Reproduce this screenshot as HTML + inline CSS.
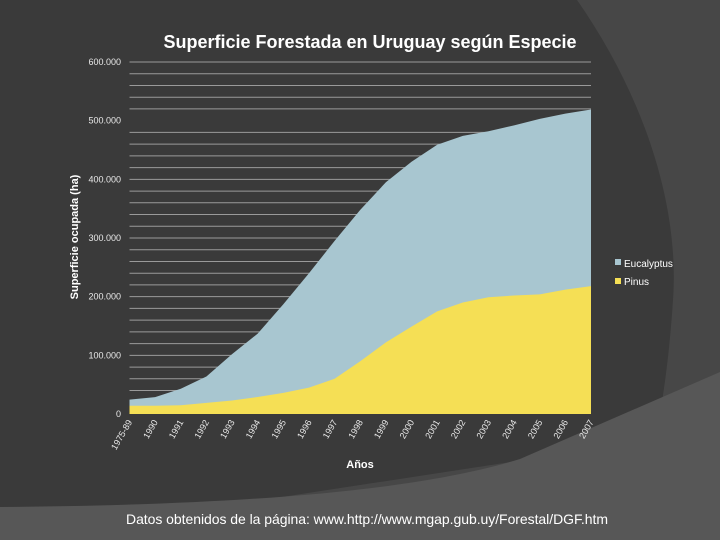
<!DOCTYPE html>
<html><head><meta charset="utf-8"><style>
html,body{margin:0;padding:0;background:#555;}
svg{display:block;font-family:"Liberation Sans",sans-serif;}
</style></head><body>
<svg id="c" width="720" height="540" viewBox="0 0 720 540">
<rect width="720" height="540" fill="#474747"/>
<path d="M0,0 L577,0 C640,90 680,200 673,300 C669,360 663,400 655,440 L0,540 Z" fill="#3a3a3a"/>
<path d="M0,507 C250,505 420,490 520,459 L720,372 L720,540 L0,540 Z" fill="#575757"/>
<text x="370" y="48" text-anchor="middle" fill="#fff" font-size="18" font-weight="bold" textLength="413">Superficie Forestada en Uruguay según Especie</text>
<g id="grid"></g>
<g id="areas"></g>
<g id="yt"></g>
<g id="xt"></g>
<text transform="translate(78,237) rotate(-90)" text-anchor="middle" fill="#fff" font-size="11" font-weight="bold">Superficie ocupada (ha)</text>
<text x="360" y="468" text-anchor="middle" fill="#fff" font-size="11" font-weight="bold">Años</text>
<g>
<rect x="615" y="259" width="6" height="6" fill="#a8c6d0"/>
<text x="624" y="267" fill="#fff" font-size="10">Eucalyptus</text>
<rect x="615" y="278" width="6" height="6" fill="#f5df55"/>
<text x="624" y="285" fill="#fff" font-size="10">Pinus</text>
</g>
<text x="126" y="524" fill="#fff" font-size="14" textLength="482">Datos obtenidos de la página: www.http://www.mgap.gub.uy/Forestal/DGF.htm</text>
</svg>
<script>
const categories=["1975-89","1990","1991","1992","1993","1994","1995","1996","1997","1998","1999","2000","2001","2002","2003","2004","2005","2006","2007"];
const pinus=[14000,14000,15000,19000,23000,29000,36000,45000,60000,90000,122000,149000,175000,190000,199000,202000,204000,212000,218000];
const eucalyptus=[10600,14700,28000,45000,79000,108000,151000,195000,235000,258000,273000,281000,284000,284000,283000,290000,299000,300000,301000];
const yTicks=[0,100000,200000,300000,400000,500000,600000];
const yTickLabels=["0","100.000","200.000","300.000","400.000","500.000","600.000"];
const NS="http://www.w3.org/2000/svg";
const X0=129.5,X1=591,Y0=414,Y1=62;
const xs=i=>X0+(X1-X0)*i/(categories.length-1);
const ys=v=>Y0-(Y0-Y1)*v/600000;
function mk(t,a,p){const e=document.createElementNS(NS,t);for(const k in a)e.setAttribute(k,a[k]);p.appendChild(e);return e;}
const grid=document.getElementById('grid');
for(let v=20000;v<=600000;v+=20000){
  if(v===500000)continue;
  const l=mk('line',{x1:X0,x2:X1,y1:ys(v),y2:ys(v),stroke:'#9a9a9a','stroke-width':1},grid);
  
  
}
const areas=document.getElementById('areas');
const tot=pinus.map((p,i)=>p+eucalyptus[i]);
let d='M'+xs(0)+','+ys(0);
tot.forEach((v,i)=>d+=' L'+xs(i)+','+ys(v));
d+=' L'+xs(tot.length-1)+','+ys(0)+' Z';
const ea=mk('path',{d:d,fill:'#a8c6d0'},areas);


d='M'+xs(0)+','+ys(0);
pinus.forEach((v,i)=>d+=' L'+xs(i)+','+ys(v));
d+=' L'+xs(pinus.length-1)+','+ys(0)+' Z';
const pa=mk('path',{d:d,fill:'#f5df55'},areas);


const yt=document.getElementById('yt');
yTicks.forEach((v,i)=>{
  const t=mk('text',{x:121,y:ys(v)+3,'text-anchor':'end',fill:'#e8e8e8','font-size':9},yt);
  t.textContent=yTickLabels[i];
  
  
});
const xt=document.getElementById('xt');
categories.forEach((c,i)=>{
  const t=mk('text',{transform:'translate('+(xs(i)+3)+',422) rotate(-60)','text-anchor':'end',fill:'#e8e8e8','font-size':9},xt);
  t.textContent=c;
  
  
});
</script>
</body></html>
